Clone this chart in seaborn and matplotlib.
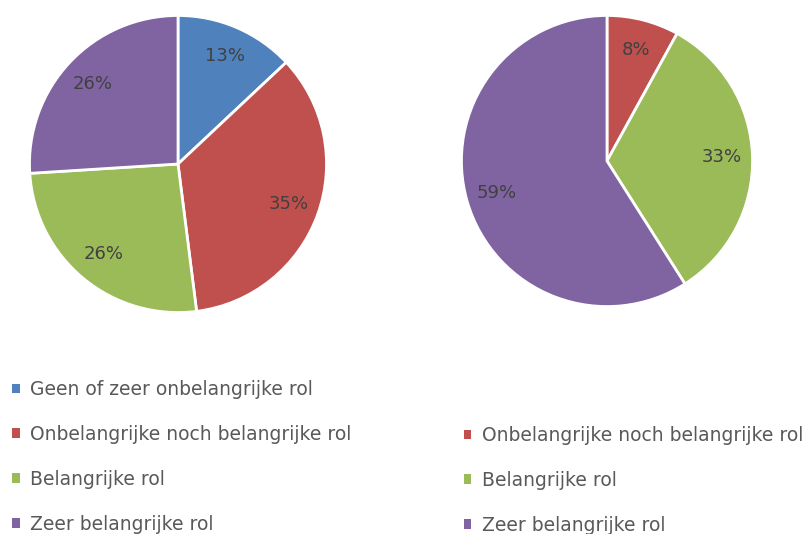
import matplotlib
matplotlib.use("Agg")
import matplotlib.pyplot as plt
import seaborn as sns

# data
labels_left = ["Geen of zeer onbelangrijke rol", "Onbelangrijke noch belangrijke rol",
               "Belangrijke rol", "Zeer belangrijke rol"]
values_left = [13, 35, 26, 26]
labels_right = ["Onbelangrijke noch belangrijke rol", "Belangrijke rol", "Zeer belangrijke rol"]
values_right = [8, 33, 59]

sns.set_theme(style="white")
plt.rcParams['font.family'] = ['DejaVu Sans']

kleuren = sns.color_palette(["#4F81BD", "#C0504D", "#9BBB59", "#8064A2"])

W, H = 808, 534
fig = plt.figure(figsize=(W / 100, H / 100), dpi=100)

def pie_ax(cx, cy, r):
    return fig.add_axes([(cx - r) / W, (H - cy - r) / H, 2 * r / W, 2 * r / H])

ax1 = pie_ax(178, 164, 150)
ax2 = pie_ax(607, 161, 147)

def teken(ax, vals, cols):
    wedges, _, autotexts = ax.pie(
        vals, colors=cols, startangle=90, counterclock=False,
        autopct=lambda p: f"{p:.0f}%", pctdistance=0.79,
        wedgeprops=dict(edgecolor="white", linewidth=2),
        textprops=dict(color="#404040", fontsize=13))
    ax.set_xlim(-1.01, 1.01)
    ax.set_ylim(-1.01, 1.01)
    ax.set_aspect("equal")
    ax.axis("off")
    return wedges

w1 = teken(ax1, values_left, kleuren)
w2 = teken(ax2, values_right, kleuren[1:])

legend_kw = dict(frameon=False, loc="upper left", fontsize=13.5, labelcolor="#595959",
                 handlelength=0.4, handleheight=0.4, handletextpad=0.55,
                 labelspacing=1.38, borderpad=0, borderaxespad=0)
fig.legend(w1, labels_left, bbox_to_anchor=(12 / W, (H - 380) / H), **legend_kw)
fig.legend(w2, labels_right, bbox_to_anchor=(464 / W, (H - 426) / H), **legend_kw)

for leg in fig.legends:
    for h in leg.legend_handles:
        h.set_edgecolor("none")

fig.savefig("out.png", dpi=100)
